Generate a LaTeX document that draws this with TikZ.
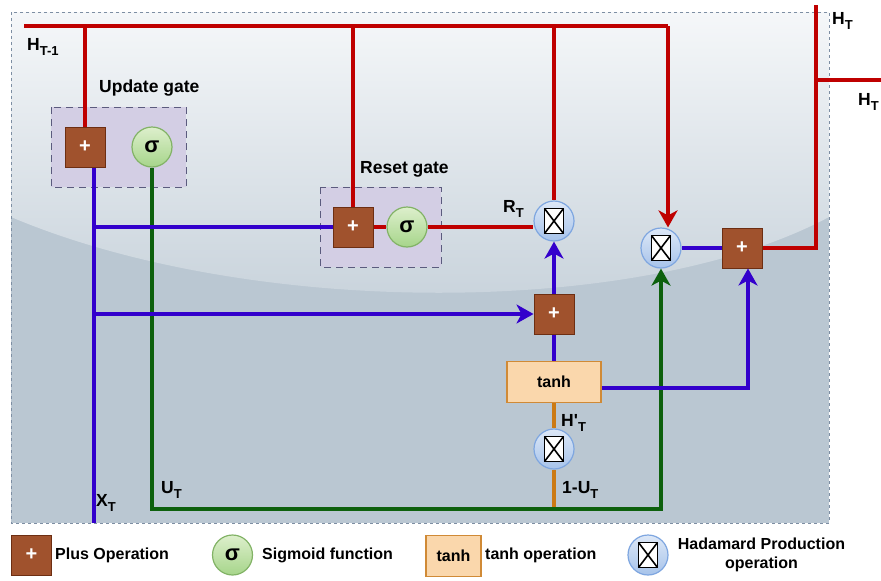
\documentclass[tikz,border=0pt]{standalone}
\usepackage{fontspec}
\setmainfont{Liberation Sans}
\usetikzlibrary{arrows.meta,calc}
\definecolor{cred}{HTML}{BF0000}
\definecolor{cblue}{HTML}{3300CC}
\definecolor{cgreen}{HTML}{0D600D}
\definecolor{corange}{HTML}{CC7A14}
\definecolor{plusfill}{HTML}{A0522D}
\definecolor{plusline}{HTML}{6D2E12}
\definecolor{sigtop}{HTML}{DDEFCC}
\definecolor{sigbot}{HTML}{A6D58A}
\definecolor{sigline}{HTML}{82B366}
\definecolor{hadtop}{HTML}{DDE8F7}
\definecolor{hadbot}{HTML}{A7C3EA}
\definecolor{hadline}{HTML}{7EA6E0}
\definecolor{tanhfill}{HTML}{FAD7AC}
\definecolor{tanhline}{HTML}{D08A36}
\definecolor{gatefill}{HTML}{D3CEE4}
\definecolor{gateline}{HTML}{5B5B7E}
\definecolor{bgtop}{HTML}{F5F7F9}
\definecolor{bgmid}{HTML}{C6D1DA}
\definecolor{bglow}{HTML}{BAC7D2}
\definecolor{bgline}{HTML}{7D8EA3}
\newcommand\mysub[1]{\raisebox{-5pt}{\fontsize{13}{13}\selectfont #1}}
\begin{document}
\begin{tikzpicture}[x=1pt,y=-1pt,
  conn/.style={line width=3.4pt},
  arr/.style={conn,-{Stealth[length=17pt,width=19pt,inset=5pt]}},
  plusbox/.style={rectangle,draw=plusline,line width=1pt,fill=plusfill,minimum size=40pt,inner sep=0pt,text=white,font=\fontsize{20}{20}\selectfont\bfseries},
  sigcirc/.style={circle,draw=sigline,line width=1.2pt,top color=sigtop,bottom color=sigbot,minimum size=40pt,inner sep=0pt,font=\fontsize{22}{22}\selectfont\bfseries},
  hadcirc/.style={circle,draw=hadline,line width=1.2pt,top color=hadtop,bottom color=hadbot,minimum size=40pt,inner sep=0pt,
    path picture={
      \draw[black,line width=1.8pt,fill=white] (path picture bounding box.center) ++(-9.5,-12.5) rectangle ++(19,25);
      \draw[black,line width=1.6pt] (path picture bounding box.center) ++(-9.5,-12.5) -- ++(19,25);
      \draw[black,line width=1.6pt] (path picture bounding box.center) ++(9.5,-12.5) -- ++(-19,25);}},
  tanhbox/.style={rectangle,draw=tanhline,line width=1.2pt,fill=tanhfill,inner sep=0pt,font=\fontsize{16}{16}\selectfont\bfseries},
  gatebox/.style={draw=gateline,line width=1pt,dash pattern=on 7pt off 5pt,fill=gatefill},
  lab/.style={inner sep=0pt,anchor=base west,font=\fontsize{17.5}{20}\selectfont\bfseries},
  leg/.style={inner sep=0pt,anchor=west,font=\fontsize{16}{19}\selectfont\bfseries}
]
\useasboundingbox (0,0) rectangle (881,581);
% background
\fill[bglow] (11,12) rectangle (829,523);
\shade[top color=bgtop,bottom color=bgmid] (11,12) -- (829,12) -- (829,217) .. controls (640,318) and (250,318) .. (11,217) -- cycle;
\draw[bgline,line width=0.8pt,dashed] (11,12) rectangle (829,523);
% gate boxes
\draw[gatebox] (51,107) rectangle (186,187);
\draw[gatebox] (320,187) rectangle (441,267);
% nodes
\node[plusbox] (p1) at (85,147) {+};
\node[sigcirc] (s1) at (152,147) {σ};
\node[plusbox] (p2) at (353,227) {+};
\node[sigcirc] (s2) at (407,227) {σ};
\node[hadcirc] (h1) at (554,221) {};
\node[hadcirc] (h2) at (661,248) {};
\node[plusbox] (p4) at (742,248) {+};
\node[plusbox] (p3) at (554,314) {+};
\node[tanhbox,minimum width=94pt,minimum height=41pt] (th) at (554,382) {tanh};
\node[hadcirc] (h3) at (554,449) {};
% coordinates
\coordinate (hin) at (24,26);
\coordinate (hred) at (668,26);
\coordinate (xin) at (94,523);
\coordinate (ub) at (152,509);
\coordinate (hout) at (816,5);
\coordinate (hright) at (881,80);
\coordinate (pin) at (748,388);
% red
\draw[conn,cred] (hin) -- (hred);
\draw[arr,cred] (hred) -- (hred |- h2.north);
\draw[conn,cred] (p1.north |- hin) -- (p1.north);
\draw[conn,cred] (p2.north |- hin) -- (p2.north);
\draw[conn,cred] (h1.north |- hin) -- (h1.north);
\draw[conn,cred] (p2.east) -- (s2.west);
\draw[conn,cred] (s2.east) -- (s2.east -| h1.west);
\draw[conn,cred] (p4.east) -- (p4.east -| hout) -- (hout);
\draw[conn,cred] (hright -| hout) -- (hright);
% orange
\draw[conn,corange] (th.south) -- (h3.north);
\draw[conn,corange] (h3.south) -- (h3.south |- ub);
% green
\draw[arr,cgreen] (s1.south) -- (s1.south |- ub) -- (h2.south |- ub) -- (h2.south);
% blue
\draw[conn,cblue] (xin) -- (xin |- p1.south);
\draw[conn,cblue] (xin |- p2.west) -- (p2.west);
\draw[arr,cblue] (xin |- p3.west) -- (p3.west);
\draw[arr,cblue] (p3.north) -- (h1.south);
\draw[conn,cblue] (th.north) -- (p3.south);
\draw[conn,cblue] (h2.east) -- (p4.west);
\draw[arr,cblue] (th.east |- pin) -- (pin) -- (pin |- p4.south);
% labels
\node[lab] (lhprev) at (27,50) {H\mysub{T-1}};
\node[lab] (lupd) at (99,92) {Update gate};
\node[lab] (lrst) at (360,173) {Reset gate};
\node[lab] (lrt) at (503,212) {R\mysub{T}};
\node[lab] (lht1) at (832,24) {H\mysub{T}};
\node[lab] (lht2) at (858,105) {H\mysub{T}};
\node[lab] (lhp) at (561,426) {H\textquotesingle\mysub{T}};
\node[lab] (lomu) at (562,493) {1-U\mysub{T}};
\node[lab] (lut) at (161,493) {U\mysub{T}};
\node[lab] (lxt) at (96,506) {X\mysub{T}};
% legend
\node[plusbox] (lgp) at (31.5,555) {+};
\node[leg] (lgpt) at (55,555) {Plus Operation};
\node[sigcirc] (lgs) at (232.5,555) {σ};
\node[leg] (lgst) at (262,555) {Sigmoid function};
\node[tanhbox,minimum width=55pt,minimum height=41pt] (lgt) at (453.5,556) {tanh};
\node[leg] (lgtt) at (485,555) {tanh operation};
\node[hadcirc] (lgh) at (648,555) {};
\node[font=\fontsize{16}{19}\selectfont\bfseries,align=center,inner sep=0pt] (lght) at (761.5,555) {Hadamard Production\\operation};
\end{tikzpicture}
\end{document}
